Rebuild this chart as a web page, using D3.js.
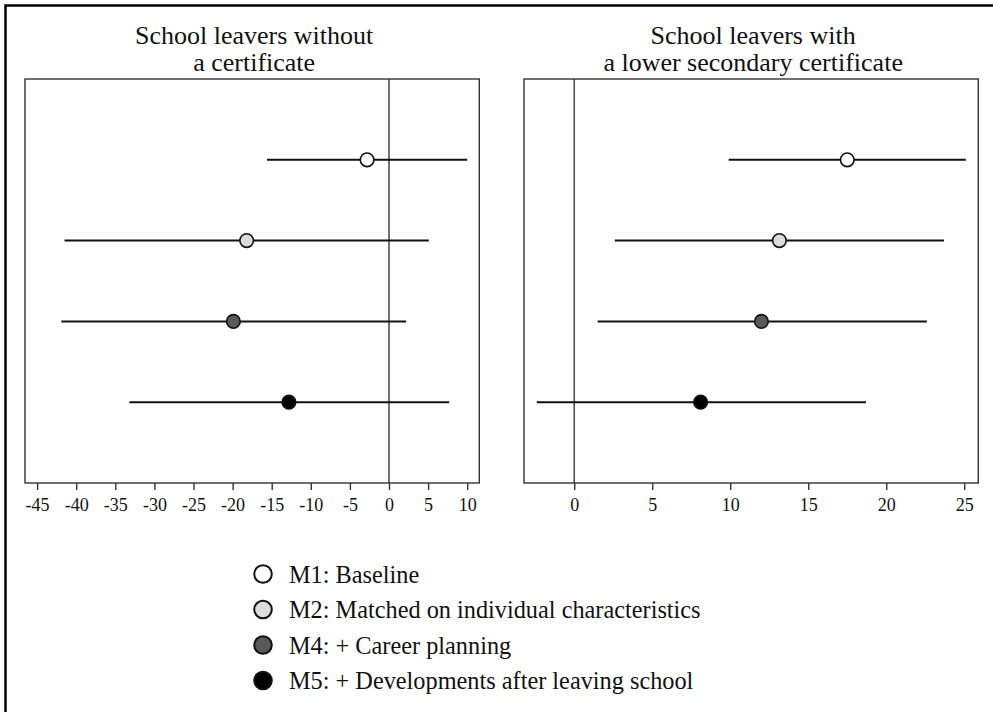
<!DOCTYPE html>
<html>
<head>
<meta charset="utf-8">
<script src="https://cdn.jsdelivr.net/npm/d3@7"></script>
<style>
    body { margin: 0; background: #fff; }
    text { font-family: "Liberation Serif", "Times New Roman", serif; fill: #111; }
</style>
</head>
<body>
<div id="chart-container"></div>
<script>
// model labels, in plotting order (top to bottom)
const models = ["M1", "M2", "M4", "M5"];
const legendLabels = [
    "M1: Baseline",
    "M2: Matched on individual characteristics",
    "M4: + Career planning",
    "M5: + Developments after leaving school"
];

// left panel: school leavers without a certificate
const noCertEst = [-2.8, -18.2, -19.9, -12.8];
const noCertLo = [-15.6, -41.5, -41.9, -33.2];
const noCertHi = [10.0, 5.1, 2.2, 7.7];
const noCertTicks = [-45, -40, -35, -30, -25, -20, -15, -10, -5, 0, 5, 10];

// right panel: school leavers with a lower secondary certificate
const lowSecEst = [17.5, 13.15, 12.0, 8.1];
const lowSecLo = [9.9, 2.6, 1.5, -2.4];
const lowSecHi = [25.1, 23.7, 22.6, 18.7];
const lowSecTicks = [0, 5, 10, 15, 20, 25];

const markerFill = ["#ffffff", "#dcdcdc", "#595959", "#000000"];

const width = 993, height = 712;
const serif = '"Liberation Serif", "Times New Roman", serif';

const svg = d3.select("#chart-container")
    .append("svg")
    .attr("width", width)
    .attr("height", height);

// outer frame (only left and top edges show inside the picture)
svg.append("rect")
    .attr("x", 5.5).attr("y", 5.5)
    .attr("width", 1100).attr("height", 900)
    .attr("fill", "none")
    .attr("stroke", "#000")
    .attr("stroke-width", 2.5);

const yScale = d3.scaleLinear()
    .domain([0, 5])
    .range([79, 483]);

function drawPanel(opts) {
    const x = d3.scaleLinear().domain(opts.domain).range(opts.range);
    const g = svg.append("g");
    const [x0, x1] = opts.range;
    const [y0, y1] = yScale.range();

    // title, two lines
    opts.title.forEach((line, i) => {
        g.append("text")
            .attr("text-anchor", "middle")
            .attr("x", (x0 + x1) / 2 + 2)
            .attr("y", 43.5 + i * 27.5)
            .style("font-size", "26px")
            .text(line);
    });

    // zero line
    g.append("line")
        .attr("x1", x(0)).attr("x2", x(0))
        .attr("y1", y0).attr("y2", y1)
        .attr("stroke", "#444")
        .attr("stroke-width", 1.5);

    // plot box
    g.append("rect")
        .attr("x", x0).attr("y", y0)
        .attr("width", x1 - x0).attr("height", y1 - y0)
        .attr("fill", "none")
        .attr("stroke", "#333")
        .attr("stroke-width", 1.4);

    // axis
    const axis = d3.axisBottom(x)
        .tickValues(opts.ticks)
        .tickSize(7)
        .tickPadding(8)
        .tickFormat(d3.format("d"));

    const ax = g.append("g")
        .attr("transform", `translate(0,${y1})`)
        .call(axis);
    ax.select(".domain").remove();
    ax.selectAll(".tick line").attr("stroke", "#333").attr("stroke-width", 1.4);
    ax.selectAll(".tick text")
        .style("font-size", "18px")
        .style("font-family", serif)
        .attr("fill", "#111")
        .text(d => d < 0 ? "-" + Math.abs(d) : d);

    // confidence intervals
    g.selectAll(".ci")
        .data(models)
        .enter()
        .append("line")
        .attr("class", "ci")
        .attr("x1", (d, i) => x(opts.lo[i]))
        .attr("x2", (d, i) => x(opts.hi[i]))
        .attr("y1", (d, i) => yScale(i + 1))
        .attr("y2", (d, i) => yScale(i + 1))
        .attr("stroke", "#111")
        .attr("stroke-width", 2);

    // point estimates
    g.selectAll(".est")
        .data(models)
        .enter()
        .append("circle")
        .attr("class", "est")
        .attr("cx", (d, i) => x(opts.est[i]))
        .attr("cy", (d, i) => yScale(i + 1))
        .attr("r", 6.8)
        .attr("fill", (d, i) => markerFill[i])
        .attr("stroke", "#111")
        .attr("stroke-width", 1.6);
}

drawPanel({
    title: ["School leavers without", "a certificate"],
    domain: [-46.55, 11.55],
    range: [25, 479.3],
    ticks: noCertTicks,
    est: noCertEst, lo: noCertLo, hi: noCertHi
});

drawPanel({
    title: ["School leavers with", "a lower secondary certificate"],
    domain: [-3.22, 25.9],
    range: [524, 978.3],
    ticks: lowSecTicks,
    est: lowSecEst, lo: lowSecLo, hi: lowSecHi
});

// legend
const legend = svg.append("g");
const legendY = d3.scaleLinear().domain([0, 1]).range([574, 609.5]);

legend.selectAll("circle")
    .data(legendLabels)
    .enter()
    .append("circle")
    .attr("cx", 263)
    .attr("cy", (d, i) => legendY(i))
    .attr("r", 8.8)
    .attr("fill", (d, i) => markerFill[i])
    .attr("stroke", "#111")
    .attr("stroke-width", 2);

legend.selectAll("text")
    .data(legendLabels)
    .enter()
    .append("text")
    .attr("x", 289)
    .attr("y", (d, i) => legendY(i) + 8.5)
    .style("font-size", "24.3px")
    .text(d => d);
</script>
</body>
</html>
